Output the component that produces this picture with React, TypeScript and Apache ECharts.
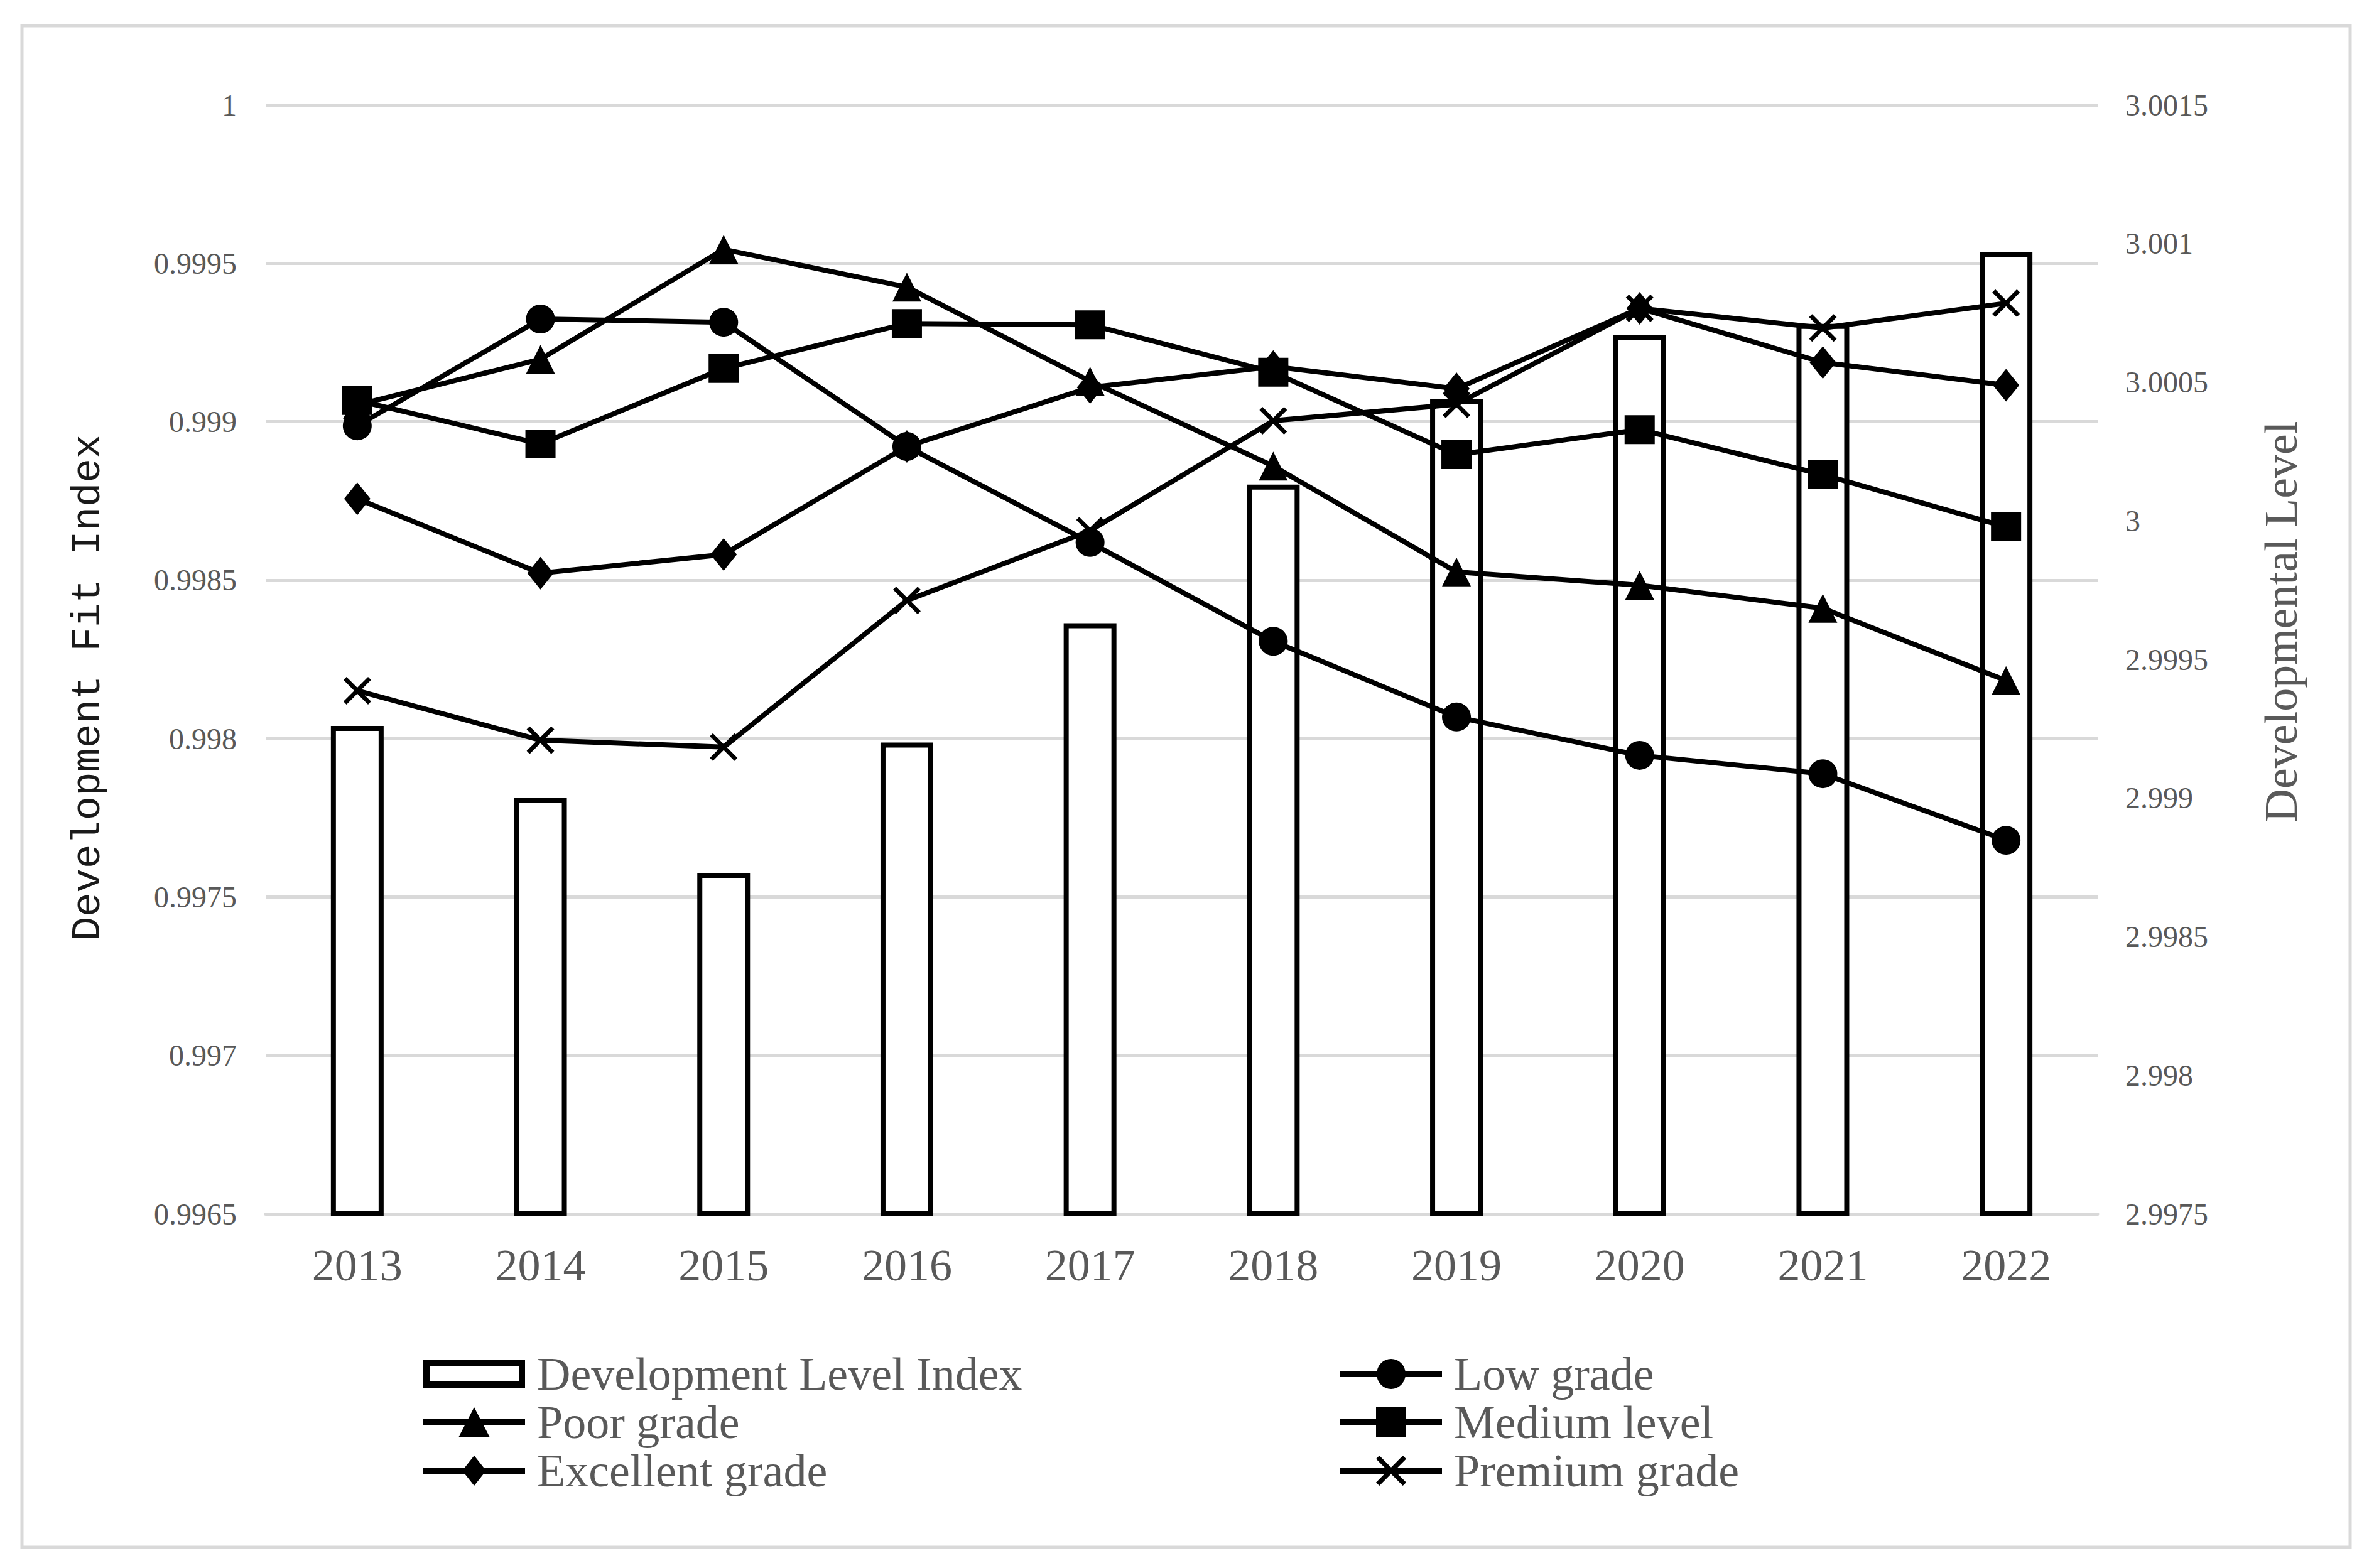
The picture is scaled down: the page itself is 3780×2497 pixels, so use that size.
import React, { useEffect, useRef } from "react";
import * as echarts from "echarts";

const years = ["2013", "2014", "2015", "2016", "2017", "2018", "2019", "2020", "2021", "2022"];
const devLevelIndex = [2.99926, 2.999, 2.99873, 2.9992, 2.99963, 3.00013, 3.00044, 3.00067, 3.00071, 3.00097];
const lowGrade = [0.998987, 0.999324, 0.999314, 0.998922, 0.998619, 0.998307, 0.998068, 0.997947, 0.997889, 0.997679];
const poorGrade = [0.999053, 0.999197, 0.999544, 0.999425, 0.999128, 0.99886, 0.998526, 0.998484, 0.998411, 0.998183];
const mediumLevel = [0.999067, 0.99893, 0.999168, 0.99931, 0.999306, 0.999156, 0.998896, 0.998975, 0.998833, 0.998668];
const excellentGrade = [0.998757, 0.998522, 0.998581, 0.998922, 0.999108, 0.999174, 0.999104, 0.999358, 0.999187, 0.999115];
const premiumGrade = [0.998151, 0.997995, 0.997973, 0.998436, 0.998656, 0.999003, 0.999055, 0.999358, 0.999296, 0.999374];

const leftAxis = { min: 0.9965, max: 1, interval: 0.0005 };
const rightAxis = { min: 2.9975, max: 3.0015, interval: 0.0005 };

const SERIF = '"Liberation Serif", "Times New Roman", serif';
const MONO = '"Liberation Mono", "Courier New", monospace';
const GRAY = "#595959";
const XPATH =
  "path://M0,1.1L1.1,0L5,3.9L8.9,0L10,1.1L6.1,5L10,8.9L8.9,10L5,6.1L1.1,10L0,8.9L3.9,5Z";

// legend icons drawn in a 162 x 48 box
const LINE = "M0,19H162V29H0Z";
const ICON_BAR = "path://M0,2H162V46H0ZM10,12V36H152V12Z";
const ICON_CIRCLE = `path://${LINE}M58,24A23,24 0 1,1 104,24A23,24 0 1,1 58,24Z`;
const ICON_TRI = `path://${LINE}M81,0L106,48L56,48Z`;
const ICON_RECT = `path://${LINE}M57,0H105V48H57Z`;
const ICON_DIAMOND = `path://${LINE}M81,0L100,24L81,48L62,24Z`;
const ICON_X = `path://${LINE}M57,5.3L62.3,0L81,18.7L99.7,0L105,5.3L86.3,24L105,42.7L99.7,48L81,29.3L62.3,48L57,42.7L75.7,24Z`;

export default function App() {
  const ref = useRef<HTMLDivElement>(null);
  useEffect(() => {
    if (!ref.current) return;
    const chart = echarts.init(ref.current, null, { renderer: "svg" });
    const lineBase = (name: string, data: number[], symbol: string, size: any) => ({
      name,
      type: "line",
      yAxisIndex: 0,
      data,
      symbol,
      symbolSize: size,
      showSymbol: true,
      lineStyle: { color: "#000", width: 8 },
      itemStyle: { color: "#000", borderWidth: 0 },
      emphasis: { disabled: true },
    });
    const legendText = {
      fontFamily: SERIF,
      fontSize: 74,
      color: GRAY,
      lineHeight: 72,
      padding: [0, 0, 0, 14],
    };
    const blackIcon = { color: "#000", borderWidth: 0 };
    const legendBase = {
      orient: "vertical",
      top: 2151,
      padding: 0,
      itemWidth: 162,
      itemHeight: 48,
      itemGap: 3,
      selectedMode: false,
      symbolKeepAspect: true,
      textStyle: legendText,
    };
    chart.setOption({
      animation: false,
      backgroundColor: "#fff",
      grid: { left: 423, right: 440, top: 167, bottom: 564, containLabel: false },
      xAxis: {
        type: "category",
        data: years,
        boundaryGap: true,
        axisLine: { show: true, lineStyle: { color: "#d9d9d9", width: 5 } },
        axisTick: { show: false },
        axisLabel: { fontFamily: SERIF, fontSize: 72, color: GRAY, margin: 46 },
      },
      yAxis: [
        {
          type: "value",
          position: "left",
          min: leftAxis.min,
          max: leftAxis.max,
          interval: leftAxis.interval,
          axisLine: { show: false },
          axisTick: { show: false },
          splitLine: { show: true, lineStyle: { color: "#d9d9d9", width: 5 } },
          axisLabel: { fontFamily: SERIF, fontSize: 48, color: GRAY, margin: 46 },
        },
        {
          type: "value",
          position: "right",
          min: rightAxis.min,
          max: rightAxis.max,
          interval: rightAxis.interval,
          axisLine: { show: false },
          axisTick: { show: false },
          splitLine: { show: false },
          axisLabel: { fontFamily: SERIF, fontSize: 48, color: GRAY, margin: 44 },
        },
      ],
      legend: [
        {
          ...legendBase,
          left: 674,
          data: [
            { name: "Development Level Index", icon: ICON_BAR, itemStyle: blackIcon },
            { name: "Poor grade", icon: ICON_TRI, itemStyle: blackIcon },
            { name: "Excellent grade", icon: ICON_DIAMOND, itemStyle: blackIcon },
          ],
        },
        {
          ...legendBase,
          left: 2134,
          data: [
            { name: "Low grade", icon: ICON_CIRCLE, itemStyle: blackIcon },
            { name: "Medium level", icon: ICON_RECT, itemStyle: blackIcon },
            { name: "Premium grade", icon: ICON_X, itemStyle: blackIcon },
          ],
        },
      ],
      series: [
        {
          name: "Development Level Index",
          type: "bar",
          yAxisIndex: 1,
          data: devLevelIndex,
          barWidth: 84,
          itemStyle: { color: "#fff", borderColor: "#000", borderWidth: 8 },
          emphasis: { disabled: true },
        },
        lineBase("Low grade", lowGrade, "circle", 46),
        lineBase("Poor grade", poorGrade, "triangle", [46, 46]),
        lineBase("Medium level", mediumLevel, "rect", [48, 46]),
        lineBase("Excellent grade", excellentGrade, "diamond", [42, 52]),
        lineBase("Premium grade", premiumGrade, XPATH, [44, 44]),
      ],
      graphic: [
        {
          type: "rect",
          shape: { x: 35, y: 41, width: 3707, height: 2423 },
          style: { fill: "none", stroke: "#d9d9d9", lineWidth: 5 },
          silent: true,
        },
        {
          type: "text",
          x: 141,
          y: 1095,
          rotation: Math.PI / 2,
          style: {
            text: "Development Fit Index",
            font: `64px ${MONO}`,
            fill: "#1a1a1a",
            align: "center",
            verticalAlign: "middle",
            textAlign: "center",
            textVerticalAlign: "middle",
          },
          silent: true,
        },
        {
          type: "text",
          x: 3632,
          y: 990,
          rotation: Math.PI / 2,
          style: {
            text: "Developmental Level",
            font: `74px ${SERIF}`,
            fill: GRAY,
            align: "center",
            verticalAlign: "middle",
            textAlign: "center",
            textVerticalAlign: "middle",
          },
          silent: true,
        },
      ],
    });
    return () => chart.dispose();
  }, []);
  return (
    <div
      ref={ref}
      style={{ position: "absolute", left: 0, top: 0, width: 3780, height: 2497, background: "#fff" }}
    />
  );
}
